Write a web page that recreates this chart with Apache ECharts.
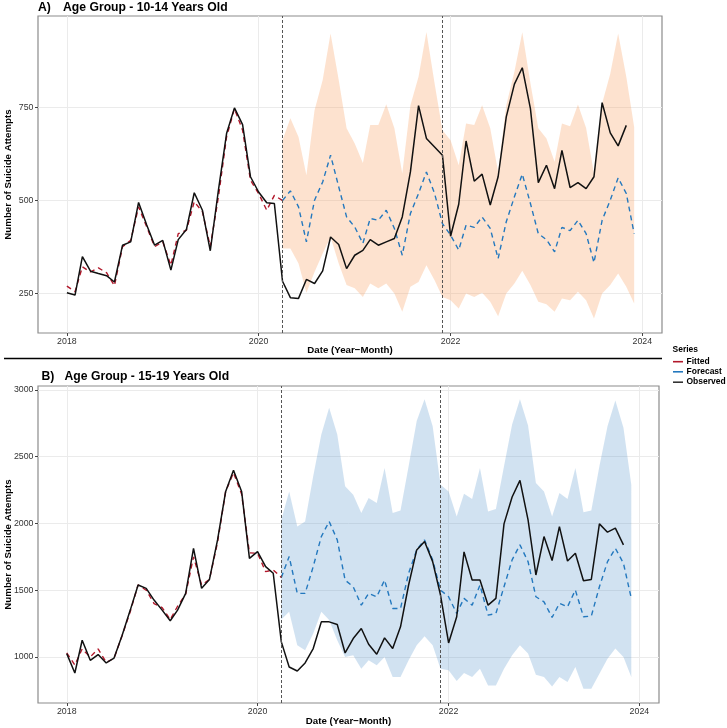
<!DOCTYPE html>
<html><head><meta charset="utf-8">
<script src="https://cdn.jsdelivr.net/npm/echarts@6/dist/echarts.min.js"></script>
<style>html,body{margin:0;padding:0;background:#fff}#c{width:727px;height:728px}</style>
</head><body><div id="c"></div>
<script>
// ---------- data (monthly, index 0 = 2018-01) ----------
const FORECAST_START = 27; // 2020-04
const yearTicks = ['2018-01-01','2020-01-01','2022-01-01','2024-01-01'];
const interventionDates = ['2020-04-01','2021-12-01'];
const yTicksA = [250, 500, 750];
const yTicksB = [1000, 1500, 2000, 2500, 3000];

// Panel A: 10-14 years
const obsA = [251,245,348,309,303,297,280,379,388,494,433,379,392,312,394,421,520,473,364,527,679,748,703,563,522,493,491,282,238,236,287,276,310,401,381,316,352,365,394,379,388,397,455,576,754,666,643,621,403,489,659,551,570,487,563,724,812,856,746,547,594,531,634,534,547,531,563,762,681,646,701];
const fitA = [269,254,321,307,318,305,270,375,392,482,428,375,388,325,410,419,496,469,375,509,670,746,688,554,518,473,513,499];
const fcA  = [499,525,482,388,500,549,621,536,455,428,384,451,446,473,424,352,464,518,576,518,437,406,366,433,427,455,424,343,442,509,570,491,410,394,361,427,418,446,410,332,446,500,560,518,410];
const upA  = [661,720,670,567,742,823,948,823,693,652,600,702,702,758,693,572,755,832,952,814,688,661,594,706,702,755,693,576,755,845,951,814,693,666,603,706,699,757,694,572,760,840,948,832,697];
const loA  = [370,370,330,251,307,357,401,330,272,263,240,276,263,276,249,200,267,280,325,285,240,231,209,249,240,251,227,188,249,276,310,272,227,220,200,236,231,254,231,182,249,272,303,267,222];

// Panel B: 15-19 years
const obsB = [1025,880,1125,975,1018,955,992,1163,1351,1539,1514,1426,1351,1271,1351,1476,1814,1514,1581,1877,2240,2398,2240,1739,1789,1677,1627,1113,925,895,955,1063,1263,1263,1243,1030,1138,1213,1095,1020,1143,1063,1226,1539,1802,1865,1714,1464,1105,1301,1787,1576,1576,1388,1439,1997,2198,2323,2027,1614,1902,1722,1977,1719,1777,1571,1581,1997,1935,1965,1840];
const fitB = [1030,940,1060,1000,1060,960,990,1160,1340,1540,1500,1400,1370,1280,1380,1470,1750,1540,1580,1860,2240,2380,2220,1780,1777,1639,1652,1596];
const fcB  = [1596,1752,1476,1476,1677,1902,2015,1877,1576,1526,1388,1476,1451,1576,1363,1363,1627,1802,1877,1727,1501,1451,1326,1439,1388,1539,1313,1326,1526,1727,1840,1714,1451,1413,1296,1401,1376,1501,1301,1306,1526,1714,1814,1702,1439];
const upB  = [2027,2240,1977,2015,2353,2666,2867,2666,2278,2215,2078,2190,2153,2416,2078,2098,2428,2767,2930,2729,2291,2240,2053,2223,2183,2416,2090,2108,2428,2742,2930,2734,2303,2240,2053,2228,2183,2416,2085,2098,2428,2729,2922,2717,2291];
const loB  = [1281,1338,1088,1050,1175,1338,1276,1125,1000,1013,912,975,937,1000,850,850,975,1088,1155,1088,912,900,820,880,850,912,787,787,912,1013,1088,1025,867,850,779,850,812,925,762,762,875,987,1063,1000,850];

// ---------- helpers ----------
function ts(s){ const p = s.split('-').map(Number); return new Date(p[0], p[1]-1, p[2]).getTime(); }
function monthTs(m){ return new Date(2018 + Math.floor(m/12), m%12, 1).getTime(); }
function pairs(arr, off){ return arr.map((v,i)=>[monthTs(i+off), v]); }
function bandData(up, lo, off){ return up.map((v,i)=>[monthTs(i+off), lo[i], v]); }

const F = '"Liberation Sans", Arial, Helvetica, sans-serif';
const X_MIN = new Date(2017,8,13).getTime();
const X_MAX = new Date(2024,2,16).getTime();
const yearTickTs = yearTicks.map(ts);

const COL_FIT = '#B2182B', COL_FC = '#2378BE', COL_OBS = '#111111';

function xAxisCfg(gi, gap){
  return {
    type:'value', gridIndex:gi, min:X_MIN, max:X_MAX,
    name:'Date (Year\u2212Month)', nameLocation:'middle', nameGap:gap, nameMoveOverlap:false,
    nameTextStyle:{fontFamily:F, fontWeight:'bold', fontSize:9.7, color:'#000'},
    axisLine:{show:false},
    axisTick:{show:true, length:3, lineStyle:{color:'#444'}, customValues:yearTickTs},
    axisLabel:{show:true, customValues:yearTickTs, formatter:(v)=>String(new Date(v).getFullYear()), fontFamily:F, fontSize:8.8, color:'#333', margin:4, showMinLabel:true, showMaxLabel:true},
    splitLine:{show:true, lineStyle:{color:'#EBEBEB', width:1}}
  };
}
function yAxisCfg(gi, min, max, ticks, gap){
  return {
    type:'value', gridIndex:gi, min, max,
    name:'Number of Suicide Attempts', nameLocation:'middle', nameGap:gap, nameMoveOverlap:false,
    nameTextStyle:{fontFamily:F, fontWeight:'bold', fontSize:9.7, color:'#000'},
    axisLine:{show:false},
    axisTick:{show:true, length:3, lineStyle:{color:'#444'}, customValues:ticks},
    axisLabel:{show:true, customValues:ticks, formatter:(v)=>String(v), fontFamily:F, fontSize:8.8, color:'#333', margin:4.5},
    splitLine:{show:true, lineStyle:{color:'#EBEBEB', width:1}}
  };
}
function panelSeries(gi, obs, fit, fc, up, lo, bandColor){
  const band = bandData(up, lo, FORECAST_START);
  return [
    {type:'custom', xAxisIndex:gi, yAxisIndex:gi, data:band, silent:true, z:1,
      encode:{x:0, y:[1,2]},
      renderItem:function(params, api){
        if (params.dataIndex !== 0) return null;
        const top = band.map(d=>api.coord([d[0], d[2]]));
        const bot = band.map(d=>api.coord([d[0], d[1]])).reverse();
        return {type:'polygon', shape:{points:top.concat(bot)}, style:{fill:bandColor, stroke:null}};
      }},
    {name:'Observed', type:'line', xAxisIndex:gi, yAxisIndex:gi, data:pairs(obs,0), symbol:'none', lineStyle:{color:COL_OBS, width:1.5}, z:4,
      markLine:{silent:true, symbol:'none', label:{show:false}, lineStyle:{color:'#555', type:[3,2], width:1}, data:interventionDates.map(d=>({xAxis:ts(d)}))}},
    {name:'Fitted', type:'line', xAxisIndex:gi, yAxisIndex:gi, data:pairs(fit,0), symbol:'none', lineStyle:{color:COL_FIT, width:1.4, type:[5,4]}, z:3},
    {name:'Forecast', type:'line', xAxisIndex:gi, yAxisIndex:gi, data:pairs(fc, FORECAST_START), symbol:'none', lineStyle:{color:COL_FC, width:1.4, type:[5,4]}, z:3}
  ];
}

const chart = echarts.init(document.getElementById('c'), null, {renderer:'canvas'});
chart.setOption({
  animation:false,
  backgroundColor:'#fff',
  textStyle:{fontFamily:F},
  grid:[
    {left:38, top:16, right:65, height:317, show:true, borderColor:'#8C8C8C', borderWidth:1.2, backgroundColor:'transparent', containLabel:false, outerBoundsMode:'none'},
    {left:38, top:386, right:68, height:317, show:true, borderColor:'#8C8C8C', borderWidth:1.2, backgroundColor:'transparent', containLabel:false, outerBoundsMode:'none'}
  ],
  xAxis:[xAxisCfg(0, 12), xAxisCfg(1, 13)],
  yAxis:[yAxisCfg(0, 143, 995, yTicksA, 25), yAxisCfg(1, 655, 3030, yTicksB, 25)],
  series:[].concat(
    panelSeries(0, obsA, fitA, fcA, upA, loA, 'rgba(248,160,95,0.3)'),
    panelSeries(1, obsB, fitB, fcB, upB, loB, 'rgba(70,140,200,0.25)')
  ),
  graphic:[
    {type:'text', left:38, top:1.5, style:{text:'A)', font:'bold 12.2px '+F, fill:'#000'}},
    {type:'text', left:63, top:1.5, style:{text:'Age Group - 10-14 Years Old', font:'bold 12.2px '+F, fill:'#000'}},
    {type:'text', left:41.5, top:370.5, style:{text:'B)', font:'bold 12.2px '+F, fill:'#000'}},
    {type:'text', left:64.5, top:370.5, style:{text:'Age Group - 15-19 Years Old', font:'bold 12.2px '+F, fill:'#000'}},
    {type:'line', shape:{x1:4, y1:358.5, x2:662, y2:358.5}, style:{stroke:'#000', lineWidth:1.3}},
    {type:'text', left:672.5, top:345.5, style:{text:'Series', font:'bold 8.5px '+F, fill:'#000'}},
    {type:'line', shape:{x1:673, y1:361.7, x2:683, y2:361.7}, style:{stroke:COL_FIT, lineWidth:1.6}},
    {type:'line', shape:{x1:673, y1:371.8, x2:683, y2:371.8}, style:{stroke:COL_FC, lineWidth:1.6}},
    {type:'line', shape:{x1:673, y1:382.2, x2:683, y2:382.2}, style:{stroke:'#333', lineWidth:1.6}},
    {type:'text', left:686.5, top:357, style:{text:'Fitted', font:'bold 8.5px '+F, fill:'#000'}},
    {type:'text', left:686.5, top:367.2, style:{text:'Forecast', font:'bold 8.5px '+F, fill:'#000'}},
    {type:'text', left:686.5, top:377.6, style:{text:'Observed', font:'bold 8.5px '+F, fill:'#000'}}
  ]
});
</script></body></html>
